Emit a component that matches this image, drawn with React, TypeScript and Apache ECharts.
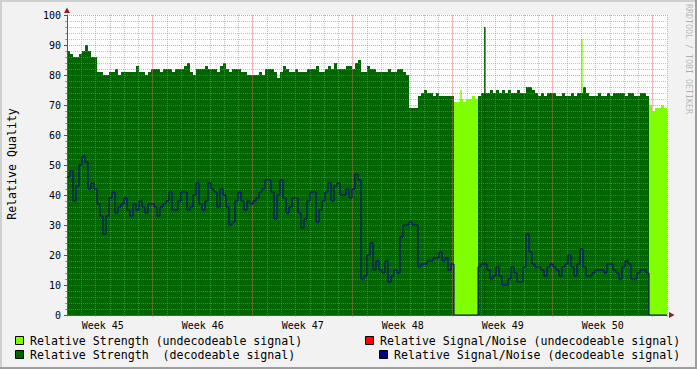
import React, { useEffect, useRef } from "react";
import * as echarts from "echarts";

const _ = null;

// one RRD sample every 5.04 hours, six weeks shown (1008 hours)
const SAMPLE_HOURS = 5.04;
const TOTAL_HOURS = 1008;

const weekLabels = ["Week 45", "Week 46", "Week 47", "Week 48", "Week 49", "Week 50"];
const weekLabelHours = [60, 228, 396, 564, 732, 900];
const weekStartHours = [144, 312, 480, 648, 816, 984];

// Relative Strength (decodeable signal)
const strengthDecodeable: (number | null)[] = [
  88, 87, 86, 86, 87, 88, 90, 88, 86, 86,
  81, 81, 80, 80, 81, 81, 82, 80, 81, 81,
  81, 81, 81, 83, 81, 81, 80, 81, 82, 82,
  82, 81, 82, 82, 82, 81, 82, 82, 82, 83,
  84, 81, 80, 82, 82, 82, 83, 82, 82, 82,
  81, 83, 84, 82, 81, 82, 82, 82, 81, 81,
  80, 80, 80, 80, 81, 80, 82, 82, 82, 81,
  79, 81, 83, 82, 81, 81, 82, 81, 81, 81,
  82, 82, 82, 83, 81, 81, 82, 83, 82, 84,
  82, 82, 82, 83, 83, 82, 84, 85, 81, 81,
  83, 82, 82, 81, 81, 81, 81, 82, 81, 81,
  82, 82, 81, 80, 69, 69, 69, 73, 74, 75,
  74, 74, 73, 74, 73, 73, 73, 73, 73, _,
  _, _, _, _, _, _, _, 73, 74, 74,
  74, 75, 74, 75, 74, 75, 74, 75, 74, 74,
  75, 74, 74, 76, 76, 75, 74, 73, 74, 73,
  74, 74, 74, 73, 73, 74, 73, 73, 74, 73,
  74, 74, 76, 74, 73, 73, 73, 74, 73, 73,
  74, 73, 74, 74, 74, 74, 73, 74, 74, 73,
  73, 74, 74, 73, _, _, _, _, _, _,
];

// Relative Strength (undecodeable signal)
const strengthUndecodeable: (number | null)[] = [
  _, _, _, _, _, _, _, _, _, _,
  _, _, _, _, _, _, _, _, _, _,
  _, _, _, _, _, _, _, _, _, _,
  _, _, _, _, _, _, _, _, _, _,
  _, _, _, _, _, _, _, _, _, _,
  _, _, _, _, _, _, _, _, _, _,
  _, _, _, _, _, _, _, _, _, _,
  _, _, _, _, _, _, _, _, _, _,
  _, _, _, _, _, _, _, _, _, _,
  _, _, _, _, _, _, _, _, _, _,
  _, _, _, _, _, _, _, _, _, _,
  _, _, _, _, _, _, _, _, _, _,
  _, _, _, _, _, _, _, _, _, 71,
  71, 72, 71, 72, 72, 73, 72, _, _, _,
  _, _, _, _, _, _, _, _, _, _,
  _, _, _, _, _, _, _, _, _, _,
  _, _, _, _, _, _, _, _, _, _,
  _, _, _, _, _, _, _, _, _, _,
  _, _, _, _, _, _, _, _, _, _,
  _, _, _, _, 70, 68, 69, 69, 70, 69,
];

// Relative Signal/Noise (decodeable signal)
const snrDecodeable: number[] = [
  46, 48, 38, 43, 50, 53, 51, 42, 44, 42,
  37, 33, 27, 33, 39, 41, 34, 36, 37, 39,
  35, 33, 37, 35, 38, 36, 34, 37, 37, 36,
  33, 36, 37, 38, 41, 35, 35, 38, 41, 41,
  35, 36, 40, 44, 37, 35, 38, 44, 42, 41,
  36, 42, 40, 36, 30, 31, 38, 41, 38, 35,
  38, 37, 38, 39, 41, 42, 45, 45, 41, 32,
  40, 45, 39, 34, 36, 39, 39, 34, 29, 32,
  38, 41, 41, 31, 35, 38, 41, 44, 38, 43,
  44, 40, 40, 42, 39, 42, 47, 45, 12, 13,
  20, 24, 15, 18, 15, 14, 18, 11, 13, 15,
  14, 26, 30, 30, 31, 30, 30, 16, 17, 17,
  18, 18, 19, 19, 21, 18, 19, 15, 17, 0,
  0, 0, 0, 0, 0, 0, 0, 16, 17, 17,
  15, 12, 13, 16, 13, 10, 10, 12, 16, 14,
  11, 11, 16, 27, 21, 17, 16, 16, 15, 13,
  16, 17, 16, 15, 13, 16, 17, 20, 16, 13,
  17, 22, 16, 13, 13, 14, 15, 15, 15, 14,
  17, 17, 15, 14, 12, 16, 18, 17, 12, 12,
  14, 15, 15, 14, 0, 0, 0, 0, 0, 0,
];

// single-sample spikes [hour, value]
const strengthDecodeableSpikes = [[702, 96]];
const strengthUndecodeableSpikes = [[662, 75], [865, 92]];

const legendItems = [
  { text: "Relative Strength (undecodeable signal)", color: "#80FF00" },
  { text: "Relative Signal/Noise (undecodeable signal)", color: "#FF0000" },
  { text: "Relative Strength  (decodeable signal)", color: "#006600" },
  { text: "Relative Signal/Noise (decodeable signal)", color: "#000088" },
];

const FONT = '"DejaVu Sans Mono", monospace';
const GRID_MINOR = "rgba(143,143,143,0.55)";
const GRID_MAJOR = "rgba(222,79,79,0.55)";
const WEEK_LINE = "rgba(222,79,79,0.45)";

function toSteps(values: (number | null)[]) {
  const out: any[] = [];
  values.forEach((v, i) => {
    const t0 = i * SAMPLE_HOURS;
    const t1 = (i + 1) * SAMPLE_HOURS;
    if (v === null) {
      out.push([t0, null]);
    } else {
      out.push([t0, v], [t1, v]);
    }
  });
  return out;
}

function weekLineData() {
  const out: any[] = [];
  weekStartHours.forEach((h) => {
    out.push([h, 0], [h, 100], [h, null]);
  });
  return out;
}

export default function App() {
  const ref = useRef<HTMLDivElement>(null);

  useEffect(() => {
    if (!ref.current) return;
    const chart = echarts.init(ref.current, null, { renderer: "svg" });

    const legendPos = [
      { sx: 15.5, sy: 336.5, tx: 30, ty: 341 },
      { sx: 365.5, sy: 336.5, tx: 380, ty: 341 },
      { sx: 15.5, sy: 350.5, tx: 30, ty: 355 },
      { sx: 379.5, sy: 350.5, tx: 394, ty: 355 },
    ];

    const graphics: any[] = [
      { type: "rect", shape: { x: 0, y: 0, width: 697, height: 2 }, style: { fill: "#CFCFCF" }, silent: true },
      { type: "rect", shape: { x: 0, y: 0, width: 2, height: 369 }, style: { fill: "#CFCFCF" }, silent: true },
      { type: "rect", shape: { x: 0, y: 367, width: 697, height: 2 }, style: { fill: "#9E9E9E" }, silent: true },
      { type: "rect", shape: { x: 695, y: 0, width: 2, height: 369 }, style: { fill: "#9E9E9E" }, silent: true },
      {
        type: "polygon",
        shape: { points: [[64, 13], [70, 13], [67, 7.5]] },
        style: { fill: "#8F2020" },
        z: 10,
      },
      {
        type: "polygon",
        shape: { points: [[669, 312], [669, 318], [674.5, 315]] },
        style: { fill: "#8F2020" },
        z: 10,
      },
      {
        type: "text",
        x: 11.5,
        y: 164,
        rotation: Math.PI / 2,
        style: {
          text: "Relative Quality",
          font: `11.6px ${FONT}`,
          fill: "#000",
          textAlign: "center",
          textVerticalAlign: "middle",
        },
      },
      {
        type: "text",
        x: 688.5,
        y: 4,
        rotation: -Math.PI / 2,
        style: {
          text: "RRDTOOL / TOBI OETIKER",
          font: `8.3px ${FONT}`,
          fill: "rgba(0,0,0,0.28)",
          textAlign: "left",
          textVerticalAlign: "middle",
        },
      },
    ];
    legendItems.forEach((it, k) => {
      const p = legendPos[k];
      graphics.push({
        type: "rect",
        shape: { x: p.sx, y: p.sy, width: 8, height: 8 },
        style: { fill: it.color, stroke: "#000", lineWidth: 1 },
      });
      graphics.push({
        type: "text",
        x: p.tx,
        y: p.ty,
        style: {
          text: it.text,
          font: `11.6px ${FONT}`,
          fill: "#000",
          textAlign: "left",
          textVerticalAlign: "middle",
        },
      });
    });

    chart.setOption({
      animation: false,
      backgroundColor: "#F2F2F2",
      grid: {
        left: 67,
        top: 15,
        width: 600,
        height: 300,
        show: true,
        backgroundColor: "#FFFFFF",
        borderWidth: 0,
      },
      xAxis: {
        type: "value",
        min: 0,
        max: TOTAL_HOURS,
        interval: 24,
        z: 2,
        axisLine: { show: true, onZero: false, lineStyle: { color: "#555", width: 1 } },
        axisTick: { show: true, length: 2, lineStyle: { color: GRID_MINOR } },
        axisLabel: {
          customValues: weekLabelHours,
          formatter: (v: number) => weekLabels[weekLabelHours.indexOf(v)] ?? "",
          fontFamily: FONT,
          fontSize: 10,
          color: "#000",
          margin: 5,
        },
        splitLine: { show: true, lineStyle: { color: GRID_MINOR, type: [1, 1], width: 1 } },
      },
      yAxis: {
        type: "value",
        min: 0,
        max: 100,
        interval: 10,
        z: 2,
        axisLine: { show: true, lineStyle: { color: "#555", width: 1 } },
        axisTick: { show: true, length: 3, lineStyle: { color: "#555" } },
        minorTick: { show: true, splitNumber: 5, length: 2, lineStyle: { color: "#999" } },
        axisLabel: { fontFamily: FONT, fontSize: 10, color: "#000", margin: 6 },
        splitLine: { show: true, lineStyle: { color: GRID_MAJOR, type: [1, 1], width: 1 } },
        minorSplitLine: { show: true, lineStyle: { color: GRID_MINOR, type: [1, 1], width: 1 } },
      },
      graphic: graphics,
      series: [
        {
          name: "Relative Strength (undecodeable signal) spikes",
          type: "bar",
          data: strengthUndecodeableSpikes,
          barWidth: 1.5,
          itemStyle: { color: "#80FF00" },
          z: 0.5,
          silent: true,
        },
        {
          name: "Relative Strength (decodeable signal)",
          type: "line",
          data: toSteps(strengthDecodeable),
          showSymbol: false,
          symbol: "none",
          connectNulls: false,
          lineStyle: { width: 0, color: "#006600" },
          areaStyle: { color: "#006600", opacity: 1 },
          z: 1,
          silent: true,
        },
        {
          name: "Relative Strength (decodeable signal) spikes",
          type: "bar",
          data: strengthDecodeableSpikes,
          barWidth: 1.5,
          barGap: "-100%",
          itemStyle: { color: "#005500" },
          z: 1,
          silent: true,
        },
        {
          name: "week grid",
          type: "line",
          data: weekLineData(),
          showSymbol: false,
          symbol: "none",
          connectNulls: false,
          lineStyle: { width: 1, color: WEEK_LINE, type: "dotted" },
          z: 2,
          silent: true,
        },
        {
          name: "Relative Strength (undecodeable signal)",
          type: "line",
          data: toSteps(strengthUndecodeable),
          showSymbol: false,
          symbol: "none",
          connectNulls: false,
          lineStyle: { width: 0, color: "#80FF00" },
          areaStyle: { color: "#80FF00", opacity: 1 },
          z: 5,
          silent: true,
        },
        {
          name: "Relative Signal/Noise (decodeable signal)",
          type: "line",
          data: toSteps(snrDecodeable),
          showSymbol: false,
          symbol: "none",
          lineStyle: { width: 1, color: "#000088" },
          z: 6,
          silent: true,
        },
      ],
    });

    return () => chart.dispose();
  }, []);

  return (
    <div
      ref={ref}
      style={{ position: "fixed", left: 0, top: 0, width: 697, height: 369 }}
    />
  );
}
